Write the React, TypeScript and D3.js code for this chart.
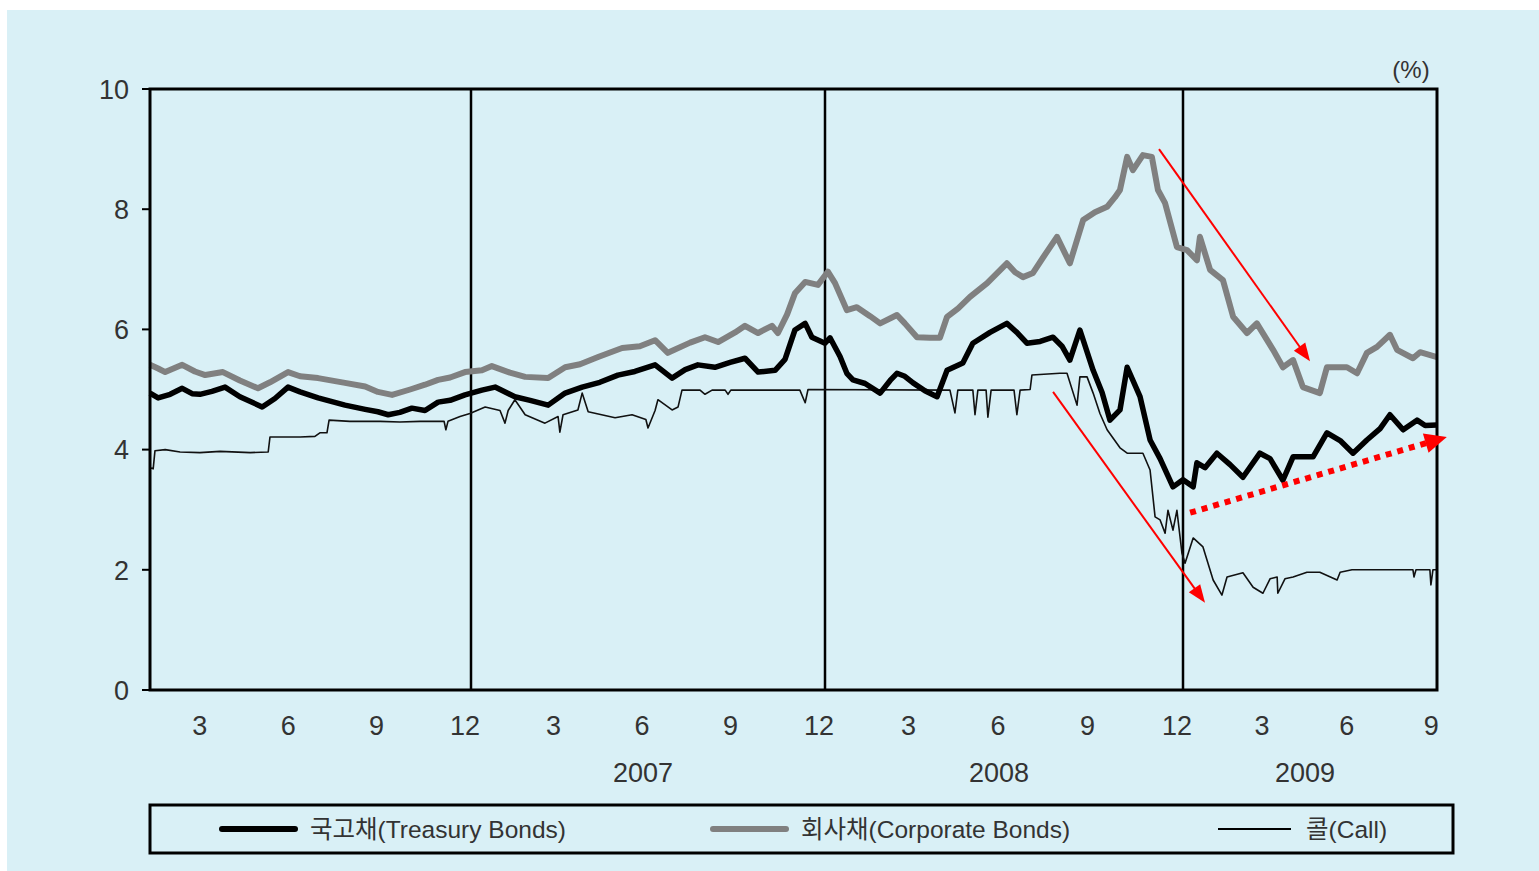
import React from "react";
import * as d3 from "d3";

// time in decimal years
const treasury: [number, number][] = [
  [2006.093, 4.94], [2006.116, 4.86], [2006.15, 4.92], [2006.184, 5.02], [2006.212, 4.93],
  [2006.234, 4.92], [2006.268, 4.97], [2006.305, 5.04], [2006.347, 4.88], [2006.41, 4.71],
  [2006.446, 4.85], [2006.483, 5.04], [2006.517, 4.96], [2006.568, 4.86], [2006.644, 4.74],
  [2006.701, 4.67], [2006.737, 4.63], [2006.766, 4.58], [2006.799, 4.62], [2006.833, 4.69],
  [2006.87, 4.65], [2006.907, 4.79], [2006.941, 4.82], [2006.983, 4.91], [2007.031, 4.99],
  [2007.068, 5.04], [2007.124, 4.88], [2007.167, 4.82], [2007.218, 4.74], [2007.266, 4.94],
  [2007.314, 5.04], [2007.364, 5.12], [2007.415, 5.24], [2007.463, 5.3], [2007.52, 5.41],
  [2007.568, 5.19], [2007.605, 5.33], [2007.641, 5.41], [2007.689, 5.37], [2007.732, 5.45],
  [2007.774, 5.52], [2007.811, 5.29], [2007.859, 5.32], [2007.887, 5.5], [2007.915, 5.99],
  [2007.944, 6.1], [2007.963, 5.87], [2008.0, 5.77], [2008.014, 5.86], [2008.042, 5.55],
  [2008.061, 5.27], [2008.078, 5.16], [2008.112, 5.1], [2008.154, 4.94], [2008.182, 5.15],
  [2008.201, 5.27], [2008.223, 5.22], [2008.246, 5.11], [2008.279, 4.98], [2008.313, 4.88],
  [2008.341, 5.32], [2008.385, 5.44], [2008.413, 5.77], [2008.461, 5.95], [2008.508, 6.1],
  [2008.536, 5.95], [2008.564, 5.77], [2008.601, 5.8], [2008.637, 5.87], [2008.662, 5.72],
  [2008.684, 5.49], [2008.712, 5.99], [2008.749, 5.32], [2008.774, 4.95], [2008.796, 4.49],
  [2008.824, 4.66], [2008.844, 5.37], [2008.88, 4.88], [2008.908, 4.16], [2008.936, 3.85],
  [2008.972, 3.38], [2009.0, 3.5], [2009.03, 3.38], [2009.041, 3.78], [2009.065, 3.7],
  [2009.1, 3.94], [2009.139, 3.75], [2009.177, 3.54], [2009.227, 3.94], [2009.257, 3.85],
  [2009.295, 3.49], [2009.325, 3.88], [2009.384, 3.88], [2009.425, 4.28], [2009.464, 4.15],
  [2009.502, 3.94], [2009.543, 4.16], [2009.582, 4.35], [2009.611, 4.58], [2009.65, 4.33],
  [2009.691, 4.49], [2009.715, 4.4], [2009.75, 4.41],
];

const corporate: [number, number][] = [
  [2006.093, 5.41], [2006.116, 5.35], [2006.136, 5.29], [2006.184, 5.41], [2006.22, 5.3],
  [2006.249, 5.24], [2006.299, 5.29], [2006.347, 5.15], [2006.398, 5.02], [2006.432, 5.12],
  [2006.483, 5.29], [2006.517, 5.22], [2006.568, 5.19], [2006.644, 5.11], [2006.701, 5.05],
  [2006.737, 4.96], [2006.777, 4.91], [2006.828, 5.0], [2006.87, 5.08], [2006.907, 5.16],
  [2006.941, 5.2], [2006.983, 5.29], [2007.031, 5.32], [2007.059, 5.39], [2007.11, 5.28],
  [2007.153, 5.21], [2007.218, 5.19], [2007.266, 5.37], [2007.308, 5.42], [2007.359, 5.54],
  [2007.427, 5.69], [2007.477, 5.72], [2007.52, 5.82], [2007.556, 5.61], [2007.619, 5.78],
  [2007.661, 5.87], [2007.698, 5.79], [2007.746, 5.95], [2007.774, 6.06], [2007.811, 5.94],
  [2007.85, 6.06], [2007.867, 5.94], [2007.893, 6.25], [2007.915, 6.6], [2007.944, 6.79],
  [2007.98, 6.74], [2008.008, 6.96], [2008.028, 6.77], [2008.061, 6.32], [2008.089, 6.37],
  [2008.126, 6.22], [2008.154, 6.1], [2008.201, 6.24], [2008.223, 6.1], [2008.257, 5.87],
  [2008.293, 5.86], [2008.321, 5.86], [2008.341, 6.21], [2008.372, 6.35], [2008.405, 6.54],
  [2008.453, 6.77], [2008.508, 7.1], [2008.531, 6.95], [2008.553, 6.87], [2008.581, 6.94],
  [2008.615, 7.25], [2008.648, 7.54], [2008.684, 7.1], [2008.721, 7.82], [2008.754, 7.95],
  [2008.788, 8.04], [2008.81, 8.2], [2008.824, 8.32], [2008.844, 8.87], [2008.86, 8.65],
  [2008.888, 8.9], [2008.913, 8.87], [2008.93, 8.32], [2008.95, 8.1], [2008.983, 7.37],
  [2009.012, 7.32], [2009.041, 7.15], [2009.05, 7.54], [2009.08, 6.99], [2009.118, 6.82],
  [2009.148, 6.21], [2009.189, 5.94], [2009.218, 6.1], [2009.266, 5.66], [2009.295, 5.37],
  [2009.325, 5.49], [2009.354, 5.04], [2009.404, 4.94], [2009.425, 5.37], [2009.484, 5.37],
  [2009.514, 5.27], [2009.543, 5.61], [2009.573, 5.71], [2009.611, 5.91], [2009.632, 5.66],
  [2009.679, 5.52], [2009.7, 5.62], [2009.75, 5.54],
];

const call: [number, number][] = [
  [2006.093, 3.7], [2006.102, 3.68], [2006.107, 3.98], [2006.136, 4.0], [2006.178, 3.96],
  [2006.234, 3.95], [2006.291, 3.97], [2006.376, 3.95], [2006.427, 3.96], [2006.432, 4.21],
  [2006.517, 4.21], [2006.559, 4.22], [2006.573, 4.28], [2006.593, 4.28], [2006.599, 4.49],
  [2006.658, 4.47], [2006.743, 4.47], [2006.799, 4.46], [2006.856, 4.47], [2006.924, 4.47],
  [2006.929, 4.33], [2006.935, 4.47], [2006.969, 4.55], [2006.997, 4.6], [2007.04, 4.71],
  [2007.082, 4.65], [2007.096, 4.44], [2007.105, 4.65], [2007.124, 4.83], [2007.153, 4.58],
  [2007.209, 4.44], [2007.246, 4.55], [2007.251, 4.29], [2007.26, 4.58], [2007.302, 4.66],
  [2007.314, 4.94], [2007.331, 4.63], [2007.407, 4.53], [2007.455, 4.58], [2007.494, 4.5],
  [2007.5, 4.36], [2007.52, 4.65], [2007.528, 4.83], [2007.568, 4.66], [2007.585, 4.71],
  [2007.596, 4.99], [2007.647, 4.99], [2007.661, 4.92], [2007.681, 4.99], [2007.718, 4.99],
  [2007.726, 4.92], [2007.734, 4.99], [2007.929, 4.99], [2007.944, 4.78], [2007.952, 5.0],
  [2008.349, 4.99], [2008.363, 4.61], [2008.371, 4.99], [2008.413, 4.99], [2008.419, 4.58],
  [2008.427, 4.99], [2008.45, 4.99], [2008.455, 4.54], [2008.464, 4.99], [2008.528, 4.99],
  [2008.536, 4.58], [2008.545, 4.99], [2008.573, 5.0], [2008.578, 5.24], [2008.656, 5.27],
  [2008.676, 5.27], [2008.704, 4.74], [2008.712, 5.21], [2008.732, 5.21], [2008.749, 4.94],
  [2008.768, 4.6], [2008.788, 4.33], [2008.824, 4.03], [2008.844, 3.94], [2008.888, 3.94],
  [2008.908, 3.66], [2008.922, 2.88], [2008.936, 2.83], [2008.95, 2.61], [2008.958, 2.99],
  [2008.972, 2.66], [2008.983, 2.99], [2008.997, 2.28], [2009.006, 2.11], [2009.03, 2.53],
  [2009.059, 2.38], [2009.089, 1.83], [2009.115, 1.58], [2009.13, 1.88], [2009.177, 1.95],
  [2009.207, 1.71], [2009.236, 1.61], [2009.257, 1.85], [2009.278, 1.88], [2009.28, 1.61],
  [2009.301, 1.85], [2009.325, 1.88], [2009.366, 1.96], [2009.404, 1.96], [2009.455, 1.83],
  [2009.464, 1.96], [2009.499, 2.0], [2009.679, 2.0], [2009.682, 1.88], [2009.688, 2.0],
  [2009.729, 2.0], [2009.732, 1.75], [2009.738, 2.0], [2009.75, 2.0],
];

const yTicks = [0, 2, 4, 6, 8, 10];
const monthTicks: [number, number][] = [
  [2006, 3], [2006, 6], [2006, 9], [2006, 12],
  [2007, 3], [2007, 6], [2007, 9], [2007, 12],
  [2008, 3], [2008, 6], [2008, 9], [2008, 12],
  [2009, 3], [2009, 6], [2009, 9],
];
const yearLabels: [string, number][] = [["2007", 2007.5], ["2008", 2008.5], ["2009", 2009.375]];
const yearDividers = [2007, 2008, 2009];

// annotation arrows in data coordinates: [t1, v1, t2, v2]
const arrows: [number, number, number, number][] = [
  [2008.933, 9.0, 2009.375, 5.47],
  [2008.637, 4.96, 2009.065, 1.45],
];
const dottedArrow: [number, number, number, number] = [2009.021, 2.95, 2009.779, 4.21];

const legendItems = [
  { label: "국고채(Treasury Bonds)", color: "#000", width: 6 },
  { label: "회사채(Corporate Bonds)", color: "#808080", width: 6 },
  { label: "콜(Call)", color: "#000", width: 2 },
];

const FONT = "'Liberation Sans', 'Noto Sans CJK KR', Arial, sans-serif";

function arrowHead(x1: number, y1: number, x2: number, y2: number, len: number, half: number) {
  const a = Math.atan2(y2 - y1, x2 - x1);
  const bx = x2 - len * Math.cos(a);
  const by = y2 - len * Math.sin(a);
  const px = -Math.sin(a) * half;
  const py = Math.cos(a) * half;
  return `${x2},${y2} ${bx + px},${by + py} ${bx - px},${by - py}`;
}

export default function App() {
  const left = 150, right = 1437, top = 89, bottom = 690;
  const x = d3.scaleLinear()
    .domain([2006.093, 2007, 2008, 2009, 2009.75])
    .range([left, 471, 825, 1183, right]);
  const y = d3.scaleLinear().domain([0, 10]).range([bottom, top]);
  const line = d3.line<[number, number]>().x((d) => x(d[0])).y((d) => y(d[1]));

  const textFill = "#333333";
  const legendX = [222, 713, 1218];

  return (
    <svg width={1539} height={871} style={{ position: "absolute", left: 0, top: 0 }}>
      <rect x={0} y={0} width={1539} height={871} fill="#ffffff" />
      <rect x={7} y={10} width={1532} height={861} fill="#d9f0f6" />

      {yearDividers.map((t) => (
        <line key={t} x1={x(t)} x2={x(t)} y1={top} y2={bottom} stroke="#000" strokeWidth={2.5} />
      ))}

      <path d={line(call) || ""} fill="none" stroke="#111" strokeWidth={1.6} strokeLinejoin="round" />
      <path d={line(corporate) || ""} fill="none" stroke="#808080" strokeWidth={6} strokeLinejoin="round" />
      <path d={line(treasury) || ""} fill="none" stroke="#000" strokeWidth={5.5} strokeLinejoin="round" />

      <rect x={left} y={top} width={right - left} height={bottom - top} fill="none" stroke="#000" strokeWidth={3} />
      {yTicks.map((v) => (
        <g key={v}>
          <line x1={left - 8} x2={left} y1={y(v)} y2={y(v)} stroke="#000" strokeWidth={2} />
          <text x={129} y={y(v)} dy="0.36em" textAnchor="end" fontSize={27} fontFamily={FONT} fill={textFill}>
            {v}
          </text>
        </g>
      ))}
      <text x={1411} y={69} dy="0.36em" textAnchor="middle" fontSize={24} fontFamily={FONT} fill={textFill}>
        (%)
      </text>

      {monthTicks.map(([yr, m]) => (
        <text key={`${yr}-${m}`} x={x(yr + (m - 0.2) / 12)} y={725} dy="0.36em" textAnchor="middle"
          fontSize={27} fontFamily={FONT} fill={textFill}>
          {m}
        </text>
      ))}
      {yearLabels.map(([lab, t]) => (
        <text key={lab} x={x(t) - 5} y={772} dy="0.36em" textAnchor="middle" fontSize={27} fontFamily={FONT} fill={textFill}>
          {lab}
        </text>
      ))}

      {arrows.map(([t1, v1, t2, v2], i) => {
        const X1 = x(t1), Y1 = y(v1), X2 = x(t2), Y2 = y(v2);
        const a = Math.atan2(Y2 - Y1, X2 - X1);
        return (
          <g key={i}>
            <line x1={X1} y1={Y1} x2={X2 - 12 * Math.cos(a)} y2={Y2 - 12 * Math.sin(a)} stroke="#ff0000" strokeWidth={2} />
            <polygon points={arrowHead(X1, Y1, X2, Y2, 18, 7)} fill="#ff0000" />
          </g>
        );
      })}
      {(() => {
        const [t1, v1, t2, v2] = dottedArrow;
        const X1 = x(t1), Y1 = y(v1), X2 = x(t2), Y2 = y(v2);
        const a = Math.atan2(Y2 - Y1, X2 - X1);
        return (
          <g>
            <line x1={X1} y1={Y1} x2={X2 - 20 * Math.cos(a)} y2={Y2 - 20 * Math.sin(a)} stroke="#ff0000"
              strokeWidth={6} strokeDasharray="6,6" />
            <polygon points={arrowHead(X1, Y1, X2, Y2, 22, 10)} fill="#ff0000" />
          </g>
        );
      })()}

      <rect x={150} y={805} width={1303} height={48} fill="none" stroke="#000" strokeWidth={3} />
      {legendItems.map((it, i) => (
        <g key={it.label}>
          <line x1={legendX[i]} x2={legendX[i] + 73} y1={829} y2={829} stroke={it.color} strokeWidth={it.width}
            strokeLinecap={it.width > 3 ? "round" : "butt"} />
          <text x={legendX[i] + 88} y={829} dy="0.36em" fontSize={24.5} fontFamily={FONT} fill={textFill}>
            {it.label}
          </text>
        </g>
      ))}
    </svg>
  );
}
